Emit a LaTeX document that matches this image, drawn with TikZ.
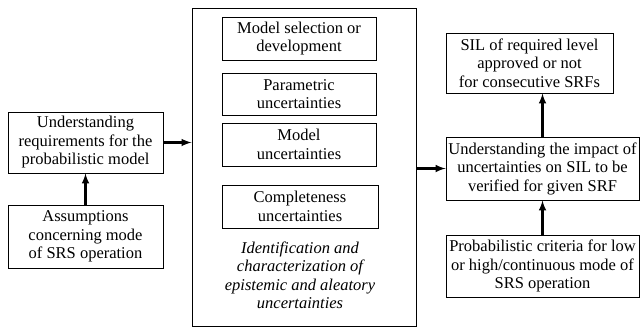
\documentclass[tikz,border=0pt]{standalone}
\usepackage{fontspec}
\setmainfont{Liberation Serif}
\tikzset{>=latex}
\tikzset{
  blk/.style={draw, line width=0.9pt, inner sep=0pt, align=center, font=\fontsize{16.5}{18.5}\selectfont},
  flow/.style={->, line width=2.4pt},
}

\begin{document}
\begin{tikzpicture}[x=1pt,y=-1pt]
\useasboundingbox (0,0) rectangle (640,330);

	% left column
	\node[blk, minimum width=155, minimum height=61] (req) at(85.5,142.5){Understanding\\requirements for the\\probabilistic model};
	\node[blk, minimum width=155, minimum height=63] (assum) at(85.5,236.5){Assumptions\\concerning mode\\of SRS operation};

	% middle frame
	\node[blk, line width=1pt, minimum width=224, minimum height=318] (frame) at(304,167){};
	\node[blk, minimum width=154, minimum height=43] (msel) at(299,38.5){Model selection or\\development};
	\node[blk, minimum width=154, minimum height=42] (param) at(299,94){Parametric\\uncertainties};
	\node[blk, minimum width=154, minimum height=43] (model) at(299,144.5){Model\\uncertainties};
	\node[blk, minimum width=156, minimum height=43] (compl) at(300,206.5){Completeness\\uncertainties};
	\node[align=center, font=\fontsize{16.5}{18.5}\selectfont\itshape] (ident) at(300,275.5){Identification and\\characterization of\\epistemic and aleatory\\uncertainties};

	% right column
	\node[blk, minimum width=167, minimum height=60] (sil) at(529.5,63){SIL of required level\\approved or not\\for consecutive SRFs};
	\node[blk, minimum width=193, minimum height=63] (impact) at(542.5,168.5){Understanding the impact of\\uncertainties on SIL to be\\verified for given SRF};
	\node[blk, minimum width=193, minimum height=62] (crit) at(542.5,266){Probabilistic criteria for low\\or high/continuous mode of\\SRS operation};

	\draw[flow] (assum) -- (req);
	\draw[flow] (req) -- (frame.west |- req);
	\draw[flow] (frame.east |- impact) -- (impact);
	\draw[flow] (crit) -- (impact);
	\draw[flow] (impact.north) -- (sil.south -| impact.north);
\end{tikzpicture}
\end{document}
